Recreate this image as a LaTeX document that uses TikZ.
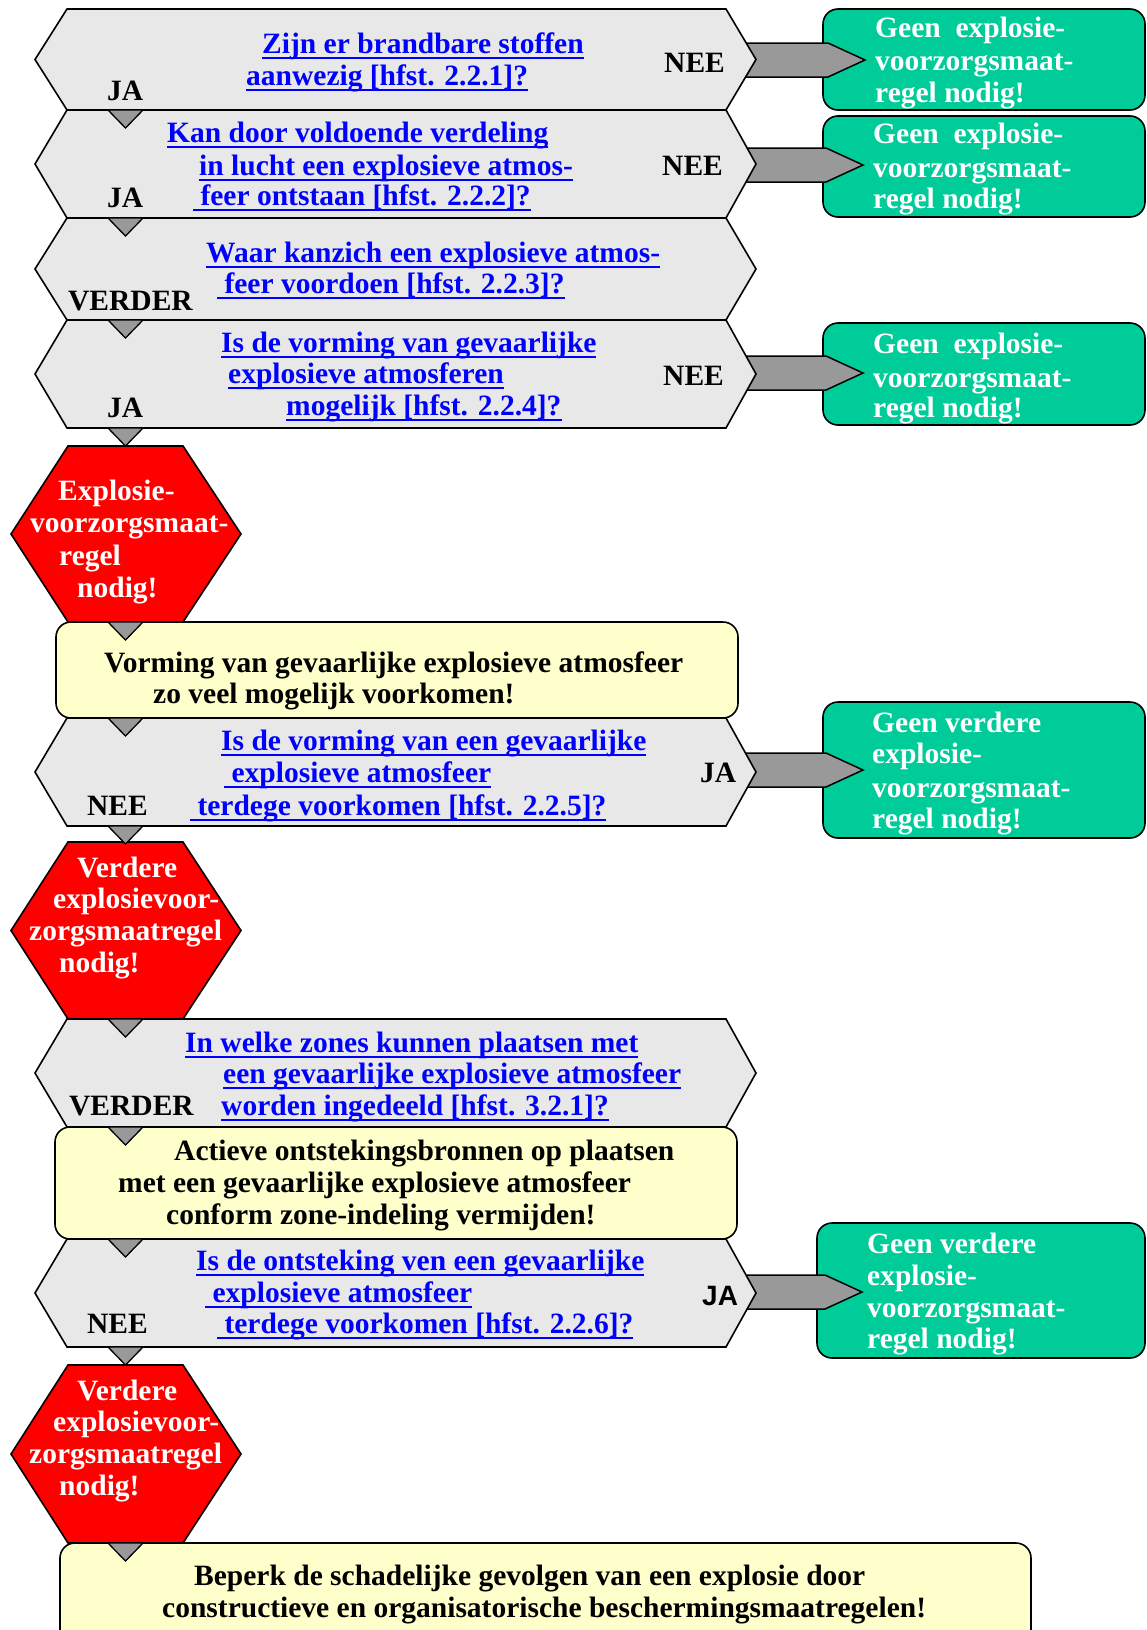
\documentclass[tikz,border=0pt]{standalone}
\usepackage{fontspec}
\setmainfont{Liberation Serif}
\newfontfamily\sansfam{Liberation Sans}
\usetikzlibrary{calc}
\definecolor{hexgrey}{HTML}{E8E8E8}
\definecolor{arrgrey}{HTML}{999999}
\definecolor{gbox}{HTML}{00CC99}
\definecolor{ybox}{HTML}{FFFFCC}
\definecolor{rbox}{HTML}{FF0000}
\definecolor{linkblue}{HTML}{0000FF}
\newcommand\lnkul[1]{\setbox0\hbox{#1}\rlap{\rule[-6pt]{\wd0}{2.4pt}}\box0}
\newcommand\txtline[5]{\node[#4] (#1) at (#2,#3) {#5};}
\newcommand\qhex[3]{%
  \path[hexq] (35,{(#2+#3)/2}) -- (67,#2) -- (726,#2) -- (756,{(#2+#3)/2}) -- (726,#3) -- (67,#3) -- cycle;
  \coordinate (#1-s) at (125.5,#3);
  \coordinate (#1-e) at (735,{(#2+#3)/2});}
\newcommand\rhex[3]{%
  \path[redhex] (11,{(#2+#3)/2}) -- (68,#2) -- (183,#2) -- (241,{(#2+#3)/2}) -- (183,#3) -- (68,#3) -- cycle;
  \coordinate (#1-s) at (125.5,#3);}
\newcommand\downtri[1]{\path[tri] (#1) ++(-17.5,0) -- ++(35,0) -- ++(-17.5,18) -- cycle;}
\newcommand\blockarrow[2]{\path[blockarr] ($(#1)+(0,-17)$) -- ($(#2)+(-37,-17)$) -- (#2) -- ($(#2)+(-37,17)$) -- ($(#1)+(0,17)$) -- cycle;}
\tikzset{
  bfont/.style={font=\fontsize{29.5}{32}\selectfont\bfseries},
  txt/.style={anchor=base west, inner sep=0pt, bfont},
  lnk/.style={txt, text=linkblue},
  lab/.style={txt, text=black},
  slab/.style={anchor=base west, inner sep=0pt, font=\fontsize{28}{32}\selectfont\sansfam\bfseries},
  wtxt/.style={txt, text=white},
  hexq/.style={fill=hexgrey, draw=black, line width=1.6pt, line join=miter},
  redhex/.style={fill=rbox, draw=black, line width=1.6pt, line join=miter},
  tri/.style={fill=arrgrey, draw=black, line width=1.3pt, line join=miter},
  blockarr/.style={fill=arrgrey, draw=black, line width=1.5pt, line join=miter},
  greenbox/.style={fill=gbox, draw=black, line width=1.6pt, rounded corners=15pt},
  yellowbox/.style={fill=ybox, draw=black, line width=1.6pt, rounded corners=15pt},
}
\begin{document}
\begin{tikzpicture}[x=1pt,y=-1pt]
\useasboundingbox (0,0) rectangle (1147,1630);
\clip (0,0) rectangle (1147,1630);
% green end boxes
\path[greenbox] (823,9) rectangle (1145,110);
\path[greenbox] (823,116) rectangle (1145,217);
\path[greenbox] (823,323) rectangle (1145,425);
\path[greenbox] (823,702) rectangle (1145,838);
\path[greenbox] (817,1223) rectangle (1145,1358);
\coordinate (g1-in) at (865,60);
\coordinate (g2-in) at (863,165);
\coordinate (g3-in) at (863,373);
\coordinate (g4-in) at (863,770);
\coordinate (g5-in) at (862,1292);
% side arrows
\coordinate (h1-e) at (735,60);
\coordinate (h2-e) at (735,165);
\coordinate (h4-e) at (735,373);
\coordinate (h5-e) at (735,770);
\coordinate (h7-e) at (735,1292);
\blockarrow{h1-e}{g1-in}
\blockarrow{h2-e}{g2-in}
\blockarrow{h4-e}{g3-in}
\blockarrow{h5-e}{g4-in}
\blockarrow{h7-e}{g5-in}
% question hexagons
\qhex{h1}{9}{110}
\qhex{h2}{110}{218}
\qhex{h3}{218}{320}
\qhex{h4}{320}{428}
\rhex{r1}{446}{622}
\path[yellowbox] (56,622) rectangle (738,718);
\coordinate (y1-s) at (125.5,718);
\qhex{h5}{718}{826}
\rhex{r2}{842}{1019}
\qhex{h6}{1019}{1127}
\path[yellowbox] (55,1127) rectangle (737,1239);
\coordinate (y2-s) at (125.5,1239);
\qhex{h7}{1239}{1347}
\rhex{r3}{1365}{1543}
\path[yellowbox] (60,1543) rectangle (1031,1690);
% flow triangles
\downtri{h1-s}
\downtri{h2-s}
\downtri{h3-s}
\downtri{h4-s}
\downtri{r1-s}
\downtri{y1-s}
\downtri{h5-s}
\downtri{r2-s}
\downtri{h6-s}
\downtri{y2-s}
\downtri{h7-s}
\downtri{r3-s}
% texts H1
\txtline{q1a}{262}{53}{lnk}{\lnkul{Zijn er brandbare stoffen}}
\txtline{q1b}{246}{85}{lnk}{\lnkul{aanwezig [hfst. 2.2.1]?}}
\txtline{l1j}{107}{100}{lab}{JA}
\txtline{l1n}{664}{72}{lab}{NEE}
% H2
\txtline{q2a}{167}{142}{lnk}{\lnkul{Kan door voldoende verdeling}}
\txtline{q2b}{199}{175}{lnk}{\lnkul{in lucht een explosieve atmos-}}
\txtline{q2c}{193}{205}{lnk}{\lnkul{\ feer ontstaan [hfst. 2.2.2]?}}
\txtline{l2j}{107}{207}{lab}{JA}
\txtline{l2n}{662}{175}{lab}{NEE}
% H3
\txtline{q3a}{206}{262}{lnk}{\lnkul{Waar kanzich een explosieve atmos-}}
\txtline{q3b}{217}{293}{lnk}{\lnkul{\ feer voordoen [hfst. 2.2.3]?}}
\txtline{l3v}{68}{310}{lab}{VERDER}
% H4
\txtline{q4a}{221}{352}{lnk}{\lnkul{Is de vorming van gevaarlijke}}
\txtline{q4b}{228}{383}{lnk}{\lnkul{explosieve atmosferen}}
\txtline{q4c}{286}{415}{lnk}{\lnkul{mogelijk [hfst. 2.2.4]?}}
\txtline{l4j}{107}{417}{lab}{JA}
\txtline{l4n}{663}{385}{lab}{NEE}
% R1
\txtline{r1a}{58}{500}{wtxt}{Explosie-}
\txtline{r1b}{30}{532}{wtxt}{voorzorgsmaat-}
\txtline{r1c}{59}{565}{wtxt}{regel}
\txtline{r1d}{77}{597}{wtxt}{nodig!}
% Y1
\txtline{y1a}{104}{672}{lab}{Vorming van gevaarlijke explosieve atmosfeer}
\txtline{y1b}{153}{703}{lab}{zo veel mogelijk voorkomen!}
% H5
\txtline{q5a}{221}{750}{lnk}{\lnkul{Is de vorming van een gevaarlijke}}
\txtline{q5b}{224}{782}{lnk}{\lnkul{\ explosieve atmosfeer}}
\txtline{q5c}{190}{815}{lnk}{\lnkul{\ terdege voorkomen [hfst. 2.2.5]?}}
\txtline{l5n}{87}{815}{lab}{NEE}
\txtline{l5j}{700}{782}{lab}{JA}
% R2
\txtline{r2a}{77}{877}{wtxt}{Verdere}
\txtline{r2b}{53}{908}{wtxt}{explosievoor-}
\txtline{r2c}{29}{940}{wtxt}{zorgsmaatregel}
\txtline{r2d}{59}{972}{wtxt}{nodig!}
% H6
\txtline{q6a}{185}{1052}{lnk}{\lnkul{In welke zones kunnen plaatsen met}}
\txtline{q6b}{223}{1083}{lnk}{\lnkul{een gevaarlijke explosieve atmosfeer}}
\txtline{q6c}{221}{1115}{lnk}{\lnkul{worden ingedeeld [hfst. 3.2.1]?}}
\txtline{l6v}{69}{1115}{lab}{VERDER}
% Y2
\txtline{y2a}{174}{1160}{lab}{Actieve ontstekingsbronnen op plaatsen}
\txtline{y2b}{118}{1192}{lab}{met een gevaarlijke explosieve atmosfeer}
\txtline{y2c}{166}{1224}{lab}{conform zone-indeling vermijden!}
% H7
\txtline{q7a}{196}{1270}{lnk}{\lnkul{Is de ontsteking ven een gevaarlijke}}
\txtline{q7b}{205}{1302}{lnk}{\lnkul{\ explosieve atmosfeer}}
\txtline{q7c}{217}{1333}{lnk}{\lnkul{\ terdege voorkomen [hfst. 2.2.6]?}}
\txtline{l7n}{87}{1333}{lab}{NEE}
\txtline{l7j}{702}{1305}{slab}{JA}
% R3
\txtline{r3a}{77}{1400}{wtxt}{Verdere}
\txtline{r3b}{53}{1431}{wtxt}{explosievoor-}
\txtline{r3c}{29}{1463}{wtxt}{zorgsmaatregel}
\txtline{r3d}{59}{1495}{wtxt}{nodig!}
% Y3
\txtline{y3a}{194}{1585}{lab}{Beperk de schadelijke gevolgen van een explosie door}
\txtline{y3b}{162}{1617}{lab}{constructieve en organisatorische beschermingsmaatregelen!}
% green texts
\txtline{g1a}{875}{37}{wtxt}{Geen\ \ explosie-}
\txtline{g1b}{875}{70}{wtxt}{voorzorgsmaat-}
\txtline{g1c}{875}{102}{wtxt}{regel nodig!}
\txtline{g2a}{873}{143}{wtxt}{Geen\ \ explosie-}
\txtline{g2b}{873}{177}{wtxt}{voorzorgsmaat-}
\txtline{g2c}{873}{208}{wtxt}{regel nodig!}
\txtline{g3a}{873}{353}{wtxt}{Geen\ \ explosie-}
\txtline{g3b}{873}{387}{wtxt}{voorzorgsmaat-}
\txtline{g3c}{873}{417}{wtxt}{regel nodig!}
\txtline{g4a}{872}{732}{wtxt}{Geen verdere}
\txtline{g4b}{872}{763}{wtxt}{explosie-}
\txtline{g4c}{872}{797}{wtxt}{voorzorgsmaat-}
\txtline{g4d}{872}{828}{wtxt}{regel nodig!}
\txtline{g5a}{867}{1253}{wtxt}{Geen verdere}
\txtline{g5b}{867}{1285}{wtxt}{explosie-}
\txtline{g5c}{867}{1317}{wtxt}{voorzorgsmaat-}
\txtline{g5d}{867}{1348}{wtxt}{regel nodig!}
\end{tikzpicture}
\end{document}
